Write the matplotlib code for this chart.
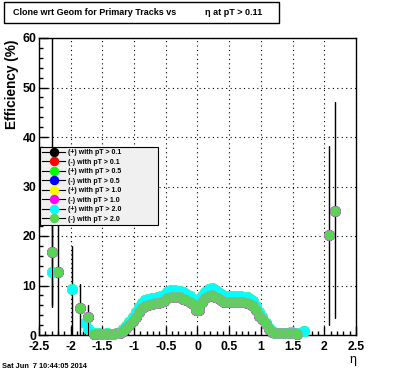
import matplotlib.pyplot as plt
from matplotlib.lines import Line2D
from matplotlib.patches import Rectangle
import numpy as np

plt.rcParams['font.family'] = ['Liberation Sans', 'DejaVu Sans']

# eta bin centres of the dense central region (bin width 0.05)
eta_bins = np.round(np.arange(-1.625, 1.6, 0.05), 3)

# (+) tracks, pT > 2.0 (cyan), central bins
pos_dense = [0.5, 0.4, 0.3, 0.3, 0.4, 0.3, 0.3, 0.5, 0.7, 1.2,
             1.9, 2.7, 3.7, 4.7, 5.7, 6.5, 7.0, 7.3, 7.4, 7.5,
             7.6, 7.8, 8.1, 8.6, 9.0, 9.0, 8.9, 8.9, 8.6, 8.2,
             7.8, 7.2, 6.2, 6.3, 7.8, 8.7, 9.2, 9.4, 9.0, 8.7,
             8.3, 7.9, 7.8, 7.8, 7.8, 7.8, 7.8, 7.7, 7.6, 7.3,
             6.8, 5.9, 4.6, 3.6, 2.5, 1.5, 0.8, 0.5, 0.4, 0.4,
             0.5, 0.5, 0.6, 0.5, 0.4]
# (-) tracks, pT > 2.0 (light green), central bins
neg_dense = [0.3, 0.2, 0.3, 0.2, 0.3, 0.2, 0.3, 0.4, 0.5, 0.9,
             1.4, 2.0, 2.8, 3.6, 4.6, 5.4, 5.9, 6.1, 6.2, 6.4,
             6.4, 6.6, 6.8, 7.4, 7.7, 7.7, 7.6, 7.6, 7.3, 7.0,
             6.7, 6.2, 5.0, 5.0, 6.6, 7.4, 7.9, 8.1, 7.7, 7.4,
             7.0, 6.7, 6.6, 6.6, 6.6, 6.6, 6.6, 6.6, 6.5, 6.3,
             5.8, 5.0, 3.8, 3.2, 2.2, 1.3, 0.6, 0.4, 0.4, 0.4,
             0.5, 0.4, 0.5, 0.4, 0.2]

# sparse forward bins with large errors
pos_sparse_x = [-2.29, -1.975, -1.775, -1.725, 1.675]
pos_sparse_y = [12.7, 9.2, 2.5, 1.2, 0.8]
pos_err_lo = [7.0, 9.2, 2.5, 1.2, 0.8]
pos_err_hi = [20.0, 8.8, 1.5, 2.0, 1.0]

neg_sparse_x = [-2.29, -2.205, -1.85, -1.725, 2.075, 2.175]
neg_sparse_y = [16.8, 12.7, 5.4, 3.6, 20.2, 25.1]
neg_err_lo = [10.8, 12.7, 5.4, 3.6, 18.2, 21.7]
neg_err_hi = [50.0, 22.0, 5.0, 2.4, 18.0, 22.0]

labels = ['(+) with pT > 0.1', '(-) with pT > 0.1',
          '(+) with pT > 0.5', '(-) with pT > 0.5',
          '(+) with pT > 1.0', '(-) with pT > 1.0',
          '(+) with pT > 2.0', '(-) with pT > 2.0']
colors = ['#000000', '#ff0000', '#00ff00', '#0000ff',
          '#ffff00', '#ff00ff', '#00ffff', '#59d454']

x_ticks = [-2.5, -2, -1.5, -1, -0.5, 0, 0.5, 1, 1.5, 2, 2.5]
x_ticklabels = ['-2.5', '-2', '-1.5', '-1', '-0.5', '0', '0.5', '1', '1.5', '2', '2.5']
y_ticks = [0, 10, 20, 30, 40, 50, 60]

pos_x = list(eta_bins) + pos_sparse_x
pos_y = pos_dense + pos_sparse_y
pos_lo = [0] * len(eta_bins) + pos_err_lo
pos_hi = [0] * len(eta_bins) + pos_err_hi
neg_x = list(eta_bins) + neg_sparse_x
neg_y = neg_dense + neg_sparse_y
neg_lo = [0] * len(eta_bins) + neg_err_lo
neg_hi = [0] * len(eta_bins) + neg_err_hi

fig = plt.figure(figsize=(3.96, 3.72), dpi=100)
ax = fig.add_axes([39 / 396, 37 / 372, 317 / 396, 297 / 372])

handles = []
for i, (lab, c) in enumerate(zip(labels, colors)):
    if i % 2 == 0:
        xs, ys, lo, hi = pos_x, pos_y, pos_lo, pos_hi
    else:
        xs, ys, lo, hi = neg_x, neg_y, neg_lo, neg_hi
    ax.errorbar(xs, ys, yerr=[lo, hi], fmt='none', ecolor='black',
                elinewidth=0.8, capsize=0, zorder=3 + 2 * i)
    mec = '#a49cb0' if i == 7 else c
    ax.plot(xs, ys, 'o', ms=7.4, mfc=c, mec=mec, mew=0.35,
            clip_on=False, zorder=4 + 2 * i)
    handles.append(Line2D([], [], color='black', lw=0.8, marker='o', ms=5.8,
                          mfc=c, mec=c))

ax.set_xlim(-2.5, 2.5)
ax.set_ylim(0, 60)
ax.set_xticks(x_ticks)
ax.set_xticklabels(x_ticklabels)
ax.set_yticks(y_ticks)
ax.set_xticks(np.arange(-2.5, 2.51, 0.1), minor=True)
ax.set_yticks(np.arange(0, 61, 2), minor=True)
ax.tick_params(which='both', direction='in', top=False, right=False,
               labelsize=8.8, width=1)
ax.tick_params(which='major', length=6.5, pad=2)
ax.tick_params(axis='x', which='major', pad=4.3)
ax.tick_params(which='minor', length=3.2)
for t in ax.get_xticklabels() + ax.get_yticklabels():
    t.set_fontweight('bold')
ax.grid(True, which='major', color='black', linestyle=(0, (1, 3)), linewidth=0.8)
for s in ax.spines.values():
    s.set_linewidth(1)

leg = ax.legend(handles, labels, loc='upper left',
                bbox_to_anchor=(0.003, 0.377, 0.372, 0.256), mode='expand',
                prop={'size': 5, 'weight': 'bold'}, fancybox=False,
                edgecolor='black', facecolor='#f0f0f0', framealpha=1,
                borderaxespad=0, borderpad=0.35, labelspacing=0.36,
                handlelength=3.3, handletextpad=0.4)
leg.get_frame().set_linewidth(0.8)
leg.set_zorder(30)

fig.text(12 / 396, 1 - 40 / 372, 'Efficiency (%)', rotation=90, ha='center',
         va='top', fontsize=9.8, fontweight='bold')
fig.text(356 / 396, 1 - 359.5 / 372, 'η', ha='right', va='center', fontsize=9)

# title box
fig.patches.append(Rectangle((4 / 396, 1 - 23 / 372), 275 / 396, 21 / 372,
                             transform=fig.transFigure, fill=False,
                             edgecolor='black', linewidth=1))
fig.text(13 / 396, 1 - 12.5 / 372, 'Clone wrt Geom for Primary Tracks vs',
         ha='left', va='center', fontsize=6.5, fontweight='bold')
fig.text(205 / 396, 1 - 12.5 / 372, 'η at pT > 0.11',
         ha='left', va='center', fontsize=6.5, fontweight='bold')

fig.text(2 / 396, 1 - 366 / 372, 'Sat Jun  7 10:44:05 2014', ha='left',
         va='center', fontsize=5.3, fontweight='bold')

fig.savefig('out.png', dpi=100)
